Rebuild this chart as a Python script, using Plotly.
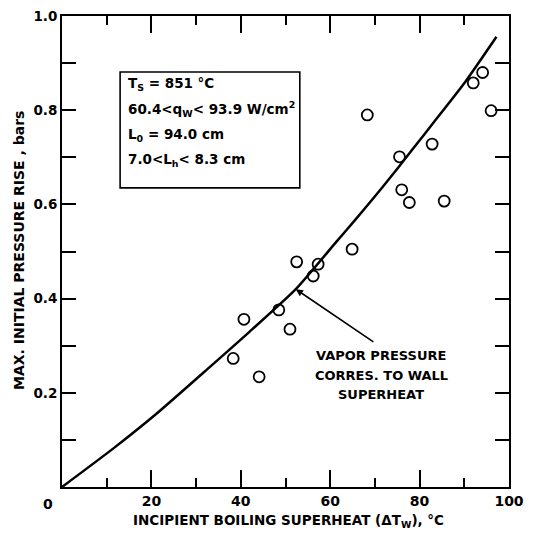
import plotly.graph_objects as go

# measured data points (incipient boiling superheat, max initial pressure rise)
superheat = [38.3, 40.7, 44.1, 48.5, 51.0, 52.5, 56.2, 57.3, 64.9, 68.3,
             75.5, 76.0, 77.7, 82.8, 85.5, 92.0, 94.1, 96.0]
pressure_rise = [0.273, 0.356, 0.234, 0.376, 0.335, 0.478, 0.448, 0.473, 0.505, 0.790,
                 0.701, 0.631, 0.604, 0.728, 0.607, 0.858, 0.880, 0.799]

# vapor pressure curve
curve_x = [0, 11.5, 21.2, 33.1, 42.0, 52.3, 61.5, 65.5, 72.0, 78.6, 83.3, 90.2, 97.2]
curve_y = [0, 0.082, 0.156, 0.255, 0.330, 0.420, 0.522, 0.566, 0.640, 0.719, 0.776, 0.860, 0.956]

x_ticks = [20, 40, 60, 80, 100]
y_ticks = [0.2, 0.4, 0.6, 0.8, 1.0]
y_tick_text = ["0.2", "0.4", "0.6", "0.8", "1.0"]

box_lines = ["T<sub>S</sub> = 851 °C",
             "60.4<q<sub>W</sub>< 93.9 W/cm<sup>2</sup>",
             "L<sub>0</sub> = 94.0 cm",
             "7.0<L<sub>h</sub>< 8.3 cm"]
box_line_y = [0.856, 0.803, 0.748, 0.694]

label_lines = ["VAPOR PRESSURE", "CORRES. TO WALL", "SUPERHEAT"]
label_line_y = [0.280, 0.237, 0.197]

x_title = "INCIPIENT BOILING SUPERHEAT (ΔT<sub>W</sub>), °C"
y_title = "MAX. INITIAL PRESSURE RISE , bars"

FONT = "DejaVu Sans"
W, H = 541, 534
ML, MR, MT, MB = 62, 32, 16, 47

fig = go.Figure()
fig.add_trace(go.Scatter(x=curve_x, y=curve_y, mode="lines",
                         line=dict(color="black", width=2.5, shape="spline", smoothing=0.6),
                         hoverinfo="skip", showlegend=False))
fig.add_trace(go.Scatter(x=superheat, y=pressure_rise, mode="markers",
                         marker=dict(symbol="circle-open", size=11, color="black",
                                     line=dict(width=1.8, color="black")),
                         showlegend=False))

# parameter box
fig.add_shape(type="rect", xref="x", yref="y", x0=13.0, x1=53.2, y0=0.635, y1=0.881,
              line=dict(color="black", width=1.6), fillcolor="white", layer="below")
for t, yy in zip(box_lines, box_line_y):
    fig.add_annotation(x=14.3, y=yy, xref="x", yref="y", text=t, showarrow=False,
                       xanchor="left", yanchor="middle",
                       font=dict(family=FONT, size=13.5, color="black", weight="bold"))

# curve label with arrow
fig.add_annotation(x=52.3, y=0.42, ax=70.0, ay=0.306, xref="x", yref="y",
                   axref="x", ayref="y", text="", showarrow=True,
                   arrowhead=2, arrowsize=0.9, arrowwidth=1.6, arrowcolor="black")
for t, yy in zip(label_lines, label_line_y):
    fig.add_annotation(x=71.4, y=yy, xref="x", yref="y", text=t,
                       showarrow=False, xanchor="center", yanchor="middle",
                       font=dict(family=FONT, size=13, color="black", weight="bold"))

# origin label
fig.add_annotation(x=0, y=0, xref="x", yref="y", text="0", showarrow=False,
                   xshift=-14, yshift=-17,
                   font=dict(family=FONT, size=14, color="black", weight="bold"))

# axis titles as annotations (paper coordinates)
fig.add_annotation(x=(288 - ML) / (W - ML - MR), y=-(521 - (H - MB)) / (H - MT - MB),
                   xref="paper", yref="paper", text=x_title, showarrow=False,
                   xanchor="center", yanchor="middle",
                   font=dict(family=FONT, size=13.5, color="black", weight="bold"))
fig.add_annotation(x=-(ML - 19) / (W - ML - MR), y=((H - MB) - 251) / (H - MT - MB),
                   xref="paper", yref="paper", text=y_title, showarrow=False,
                   textangle=-90, xanchor="center", yanchor="middle",
                   font=dict(family=FONT, size=14, color="black", weight="bold"))

fig.update_xaxes(range=[0, 100], tickvals=x_ticks, ticks="inside", ticklen=17, tickwidth=1.6,
                 tickcolor="black", showline=True, linecolor="black", linewidth=2,
                 mirror="allticks", showgrid=False, zeroline=False,
                 automargin=False,
                 minor=dict(dtick=10, ticks="inside", ticklen=9, tickwidth=1.6, tickcolor="black"),
                 tickfont=dict(family=FONT, size=14, color="black", weight="bold"))
fig.update_yaxes(range=[0, 1.0], tickvals=y_ticks, ticktext=y_tick_text, ticks="inside",
                 ticklen=14, tickwidth=1.6, tickcolor="black", showline=True,
                 linecolor="black", linewidth=2, mirror="allticks", showgrid=False,
                 zeroline=False, automargin=False, ticksuffix="\u00a0",
                 minor=dict(dtick=0.1, ticks="inside", ticklen=14, tickwidth=1.6, tickcolor="black"),
                 tickfont=dict(family=FONT, size=13.5, color="black", weight="bold"))

fig.update_layout(width=W, height=H, margin=dict(l=ML, r=MR, t=MT, b=MB, autoexpand=False),
                  plot_bgcolor="white", paper_bgcolor="white",
                  font=dict(family=FONT, color="black"))
fig.write_html("out.html")
